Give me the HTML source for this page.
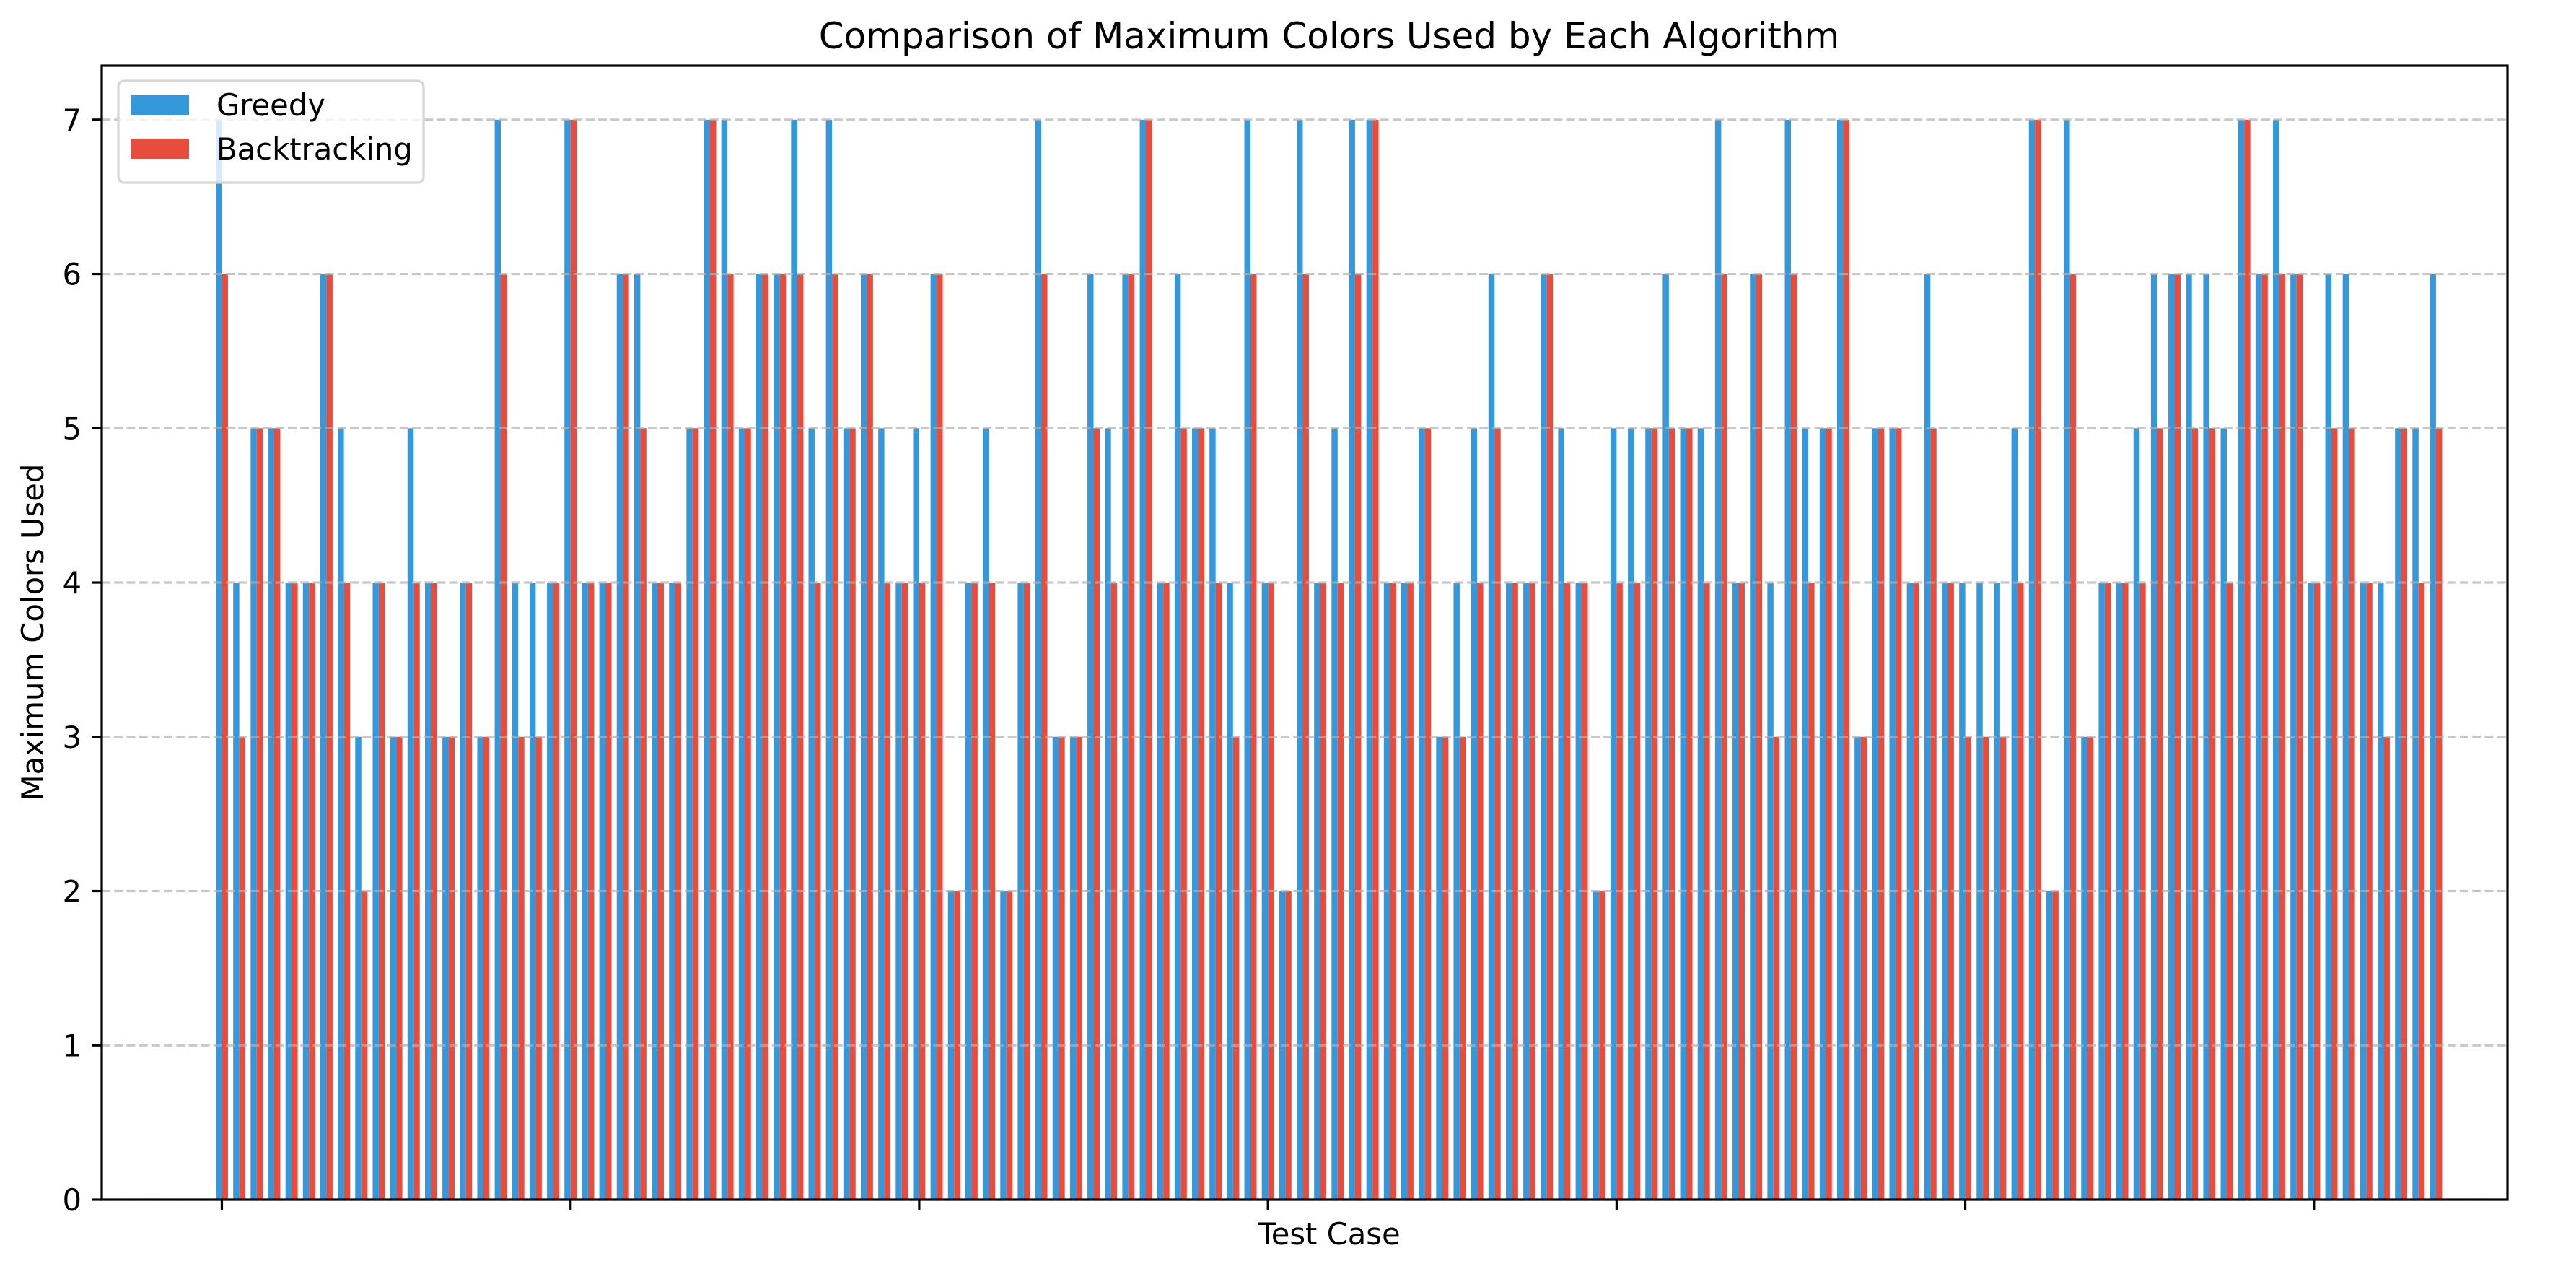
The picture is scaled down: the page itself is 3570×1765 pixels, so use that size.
<!DOCTYPE html>
<html>
<head>
<meta charset="utf-8">
<style>
  html, body { margin: 0; padding: 0; background: #fff; }
  svg { display: block; font-family: "DejaVu Sans", "Liberation Sans", sans-serif; }
</style>
</head>
<body>
<svg id="chart" width="3570" height="1765" viewBox="0 0 3570 1765" xmlns="http://www.w3.org/2000/svg">
  <rect x="0" y="0" width="3570" height="1765" fill="#ffffff"/>
  <g id="bars"></g>
  <g id="grid"></g>
  <g id="axes"></g>
  <text x="1842" y="67" font-size="50" text-anchor="middle" fill="#000">Comparison of Maximum Colors Used by Each Algorithm</text>
  <text x="1842" y="1724" font-size="41.7" text-anchor="middle" fill="#000">Test Case</text>
  <text x="0" y="0" font-size="41.7" text-anchor="middle" fill="#000" transform="translate(60,876) rotate(-90)">Maximum Colors Used</text>
  <g>
    <rect x="164" y="112" width="423" height="141" rx="8" fill="#ffffff" fill-opacity="0.8" stroke="#d6d6d6" stroke-width="3.2"/>
    <g>
      <rect x="181" y="131" width="81" height="28" fill="#3498db"/>
      <text x="300" y="160" font-size="41.7" fill="#000">Greedy</text>
    </g>
    <g>
      <rect x="181" y="192" width="81" height="28" fill="#e74c3c"/>
      <text x="300" y="221" font-size="41.7" fill="#000">Backtracking</text>
    </g>
  </g>
</svg>
<script>
const greedy = [7,4,5,5,4,4,6,5,3,4,3,5,4,3,4,3,7,4,4,4,7,
  4,4,6,6,4,4,5,7,7,5,6,6,7,5,7,5,6,5,4,5,6,2,
  4,5,2,4,7,3,3,6,5,6,7,4,6,5,5,4,7,4,2,7,4,5,
  7,7,4,4,5,3,4,5,6,4,4,6,5,4,2,5,5,5,6,5,5,
  7,4,6,4,7,5,5,7,3,5,5,4,6,4,4,4,4,5,7,2,7,3,
  4,4,5,6,6,6,6,5,7,6,7,6,4,6,6,4,4,5,5,6];
const backtracking = [6,3,5,5,4,4,6,4,2,4,3,4,4,3,4,3,6,3,3,4,7,
  4,4,6,5,4,4,5,7,6,5,6,6,6,4,6,5,6,4,4,4,6,2,
  4,4,2,4,6,3,3,5,4,6,7,4,5,5,4,3,6,4,2,6,4,4,
  6,7,4,4,5,3,3,4,5,4,4,6,4,4,2,4,4,5,5,5,4,
  6,4,6,3,6,4,5,7,3,5,5,4,5,4,3,3,3,4,7,2,6,3,
  4,4,4,5,6,5,5,4,7,6,6,6,4,5,5,4,3,5,4,5];
const yTicks = [0,1,2,3,4,5,6,7];
const xTicks = [0,20,40,60,80,100,120];

const NS = "http://www.w3.org/2000/svg";
const L = 141, R = 3475, T = 91, B = 1662;
const n = greedy.length;
const barW = 0.35;
const xMin = -6.89, xMax = 131.1;
const yMax = 7.35;
function sx(v) { return L + (v - xMin) / (xMax - xMin) * (R - L); }
function sy(v) { return B - v / yMax * (B - T); }
function mk(tag, attrs, parent) {
  const el = document.createElementNS(NS, tag);
  for (const k in attrs) el.setAttribute(k, attrs[k]);
  parent.appendChild(el);
  return el;
}

const barsG = document.getElementById('bars');
for (let i = 0; i < n; i++) {
  const g = mk('rect', { x: sx(i - barW), y: sy(greedy[i]), width: sx(i) - sx(i - barW), height: sy(0) - sy(greedy[i]), fill: '#3498db' }, barsG);
  
  
  const b = mk('rect', { x: sx(i), y: sy(backtracking[i]), width: sx(i + barW) - sx(i), height: sy(0) - sy(backtracking[i]), fill: '#e74c3c' }, barsG);
  
  
}

const gridG = document.getElementById('grid');
for (const t of yTicks) {
  const ln = mk('line', { x1: L, x2: R, y1: sy(t), y2: sy(t), stroke: '#b0b0b0', 'stroke-opacity': 0.7, 'stroke-width': 3.2, 'stroke-dasharray': '12 5.2' }, gridG);
  
  
}

const axesG = document.getElementById('axes');
for (const t of yTicks) {
  const tk = mk('line', { x1: L - 14, x2: L, y1: sy(t), y2: sy(t), stroke: '#000', 'stroke-width': 3.2 }, axesG);
  
  
  const lb = mk('text', { x: L - 28, y: sy(t) + 15, 'font-size': 41.7, 'text-anchor': 'end', fill: '#000' }, axesG);
  lb.textContent = String(t);
  
  
}
for (const t of xTicks) {
  const tk = mk('line', { x1: sx(t), x2: sx(t), y1: B, y2: B + 14, stroke: '#000', 'stroke-width': 3.2 }, axesG);
  
  
}
const frame = mk('rect', { x: L, y: T, width: R - L, height: B - T, fill: 'none', stroke: '#000', 'stroke-width': 3.2 }, axesG);


</script>
</body>
</html>
